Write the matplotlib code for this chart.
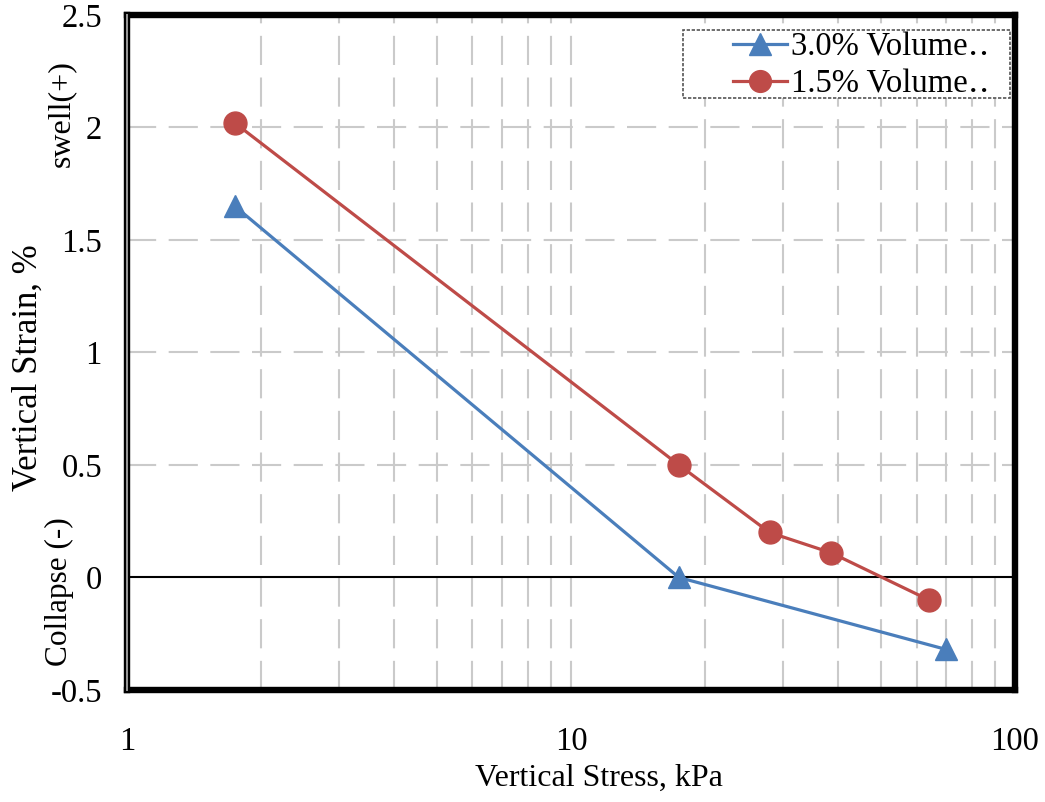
import matplotlib
matplotlib.use("Agg")
import matplotlib.pyplot as plt
from matplotlib.ticker import FixedLocator, NullFormatter
from matplotlib.patches import Rectangle

plt.rcParams['font.family'] = ['Liberation Serif', 'DejaVu Serif']

# Vertical stress (kPa) and vertical strain (%) for the two mixes
stress_30 = [1.75, 17.5, 70.0]
strain_30 = [1.65, 0.0, -0.32]
stress_15 = [1.75, 17.5, 28.0, 38.5, 64.0]
strain_15 = [2.02, 0.50, 0.20, 0.11, -0.10]

label_30 = "3.0% Volume\u2025"
label_15 = "1.5% Volume\u2025"

x_ticks = [1, 10, 100]
x_tick_labels = ["1", "10", "100"]
y_ticks = [-0.5, 0, 0.5, 1, 1.5, 2, 2.5]
y_tick_labels = ["-0.5", "0", "0.5", "1", "1.5", "2", "2.5"]

blue = "#4A7EBB"
red = "#BE4B48"

fig = plt.figure(figsize=(10.45, 8.02), dpi=100)
ax = fig.add_axes([0.1215, 0.1397, 0.8498, 0.8416])

ax.set_xscale("log")
ax.set_xlim(1, 100)
ax.set_ylim(-0.5, 2.5)

# dashed grid at the log sub-decades and every 0.5 strain
grid_x = [m * d for d in (1, 10) for m in range(2, 10)] + [10]
ax.xaxis.set_minor_locator(FixedLocator(grid_x))
ax.xaxis.set_minor_formatter(NullFormatter())
ax.set_xticks(x_ticks)
ax.set_xticklabels(x_tick_labels)
ax.set_yticks(y_ticks)
ax.set_yticklabels(y_tick_labels)

grid_kw = dict(color="#cacaca", linewidth=1.5, linestyle=(0, (14, 6)), zorder=0)
for xv in grid_x:
    ax.axvline(xv, **grid_kw)
for yv in [0.5, 1, 1.5, 2]:
    ax.axhline(yv, **grid_kw)
ax.axhline(0, color="black", linewidth=1.5, zorder=1)

ax.plot(stress_30, strain_30, color=blue, linewidth=2.3, marker="^",
        markersize=16, markerfacecolor=blue, markeredgecolor=blue,
        label=label_30, zorder=3, clip_on=False)
ax.plot(stress_15, strain_15, color=red, linewidth=2.3, marker="o",
        markersize=16.5, markerfacecolor=red, markeredgecolor=red,
        label=label_15, zorder=3, clip_on=False)

ax.tick_params(axis="both", which="both", length=0, labelsize=23.5)
ax.tick_params(axis="x", pad=26)
ax.tick_params(axis="y", pad=18)

for sp in ax.spines.values():
    sp.set_linewidth(4.6)
    sp.set_color("black")
# thin grey inner rule along the left edge of the frame
ax.axvline(1, color="#9a9a9a", linewidth=1.4, zorder=5, clip_on=False)

fig.text(0.573, 0.029, "Vertical Stress, kPa", fontsize=23,
         ha="center", va="center")
fig.text(0.027, 0.542, "Vertical Strain, %", rotation=90, fontsize=25,
         ha="center", va="center")
fig.text(0.059, 0.858, "swell(+)", rotation=90, fontsize=23,
         ha="center", va="center")
fig.text(0.057, 0.262, "Collapse (-)", rotation=90, fontsize=22.5,
         ha="center", va="center")

# legend box
ax.add_patch(Rectangle((0.626, 0.877), 0.368, 0.101, transform=ax.transAxes,
                       facecolor="white", edgecolor="#555555", linewidth=1.2,
                       linestyle=(0, (2, 1)), zorder=6))
leg = ax.legend(loc="center left", bbox_to_anchor=(0.683, 0.925),
                fontsize=23.5, frameon=False, handlelength=1.65,
                handletextpad=0.12, borderpad=0.0, labelspacing=0.18,
                borderaxespad=0.0, markerscale=0.95)
leg.set_zorder(7)

fig.savefig("out.png", dpi=100)
